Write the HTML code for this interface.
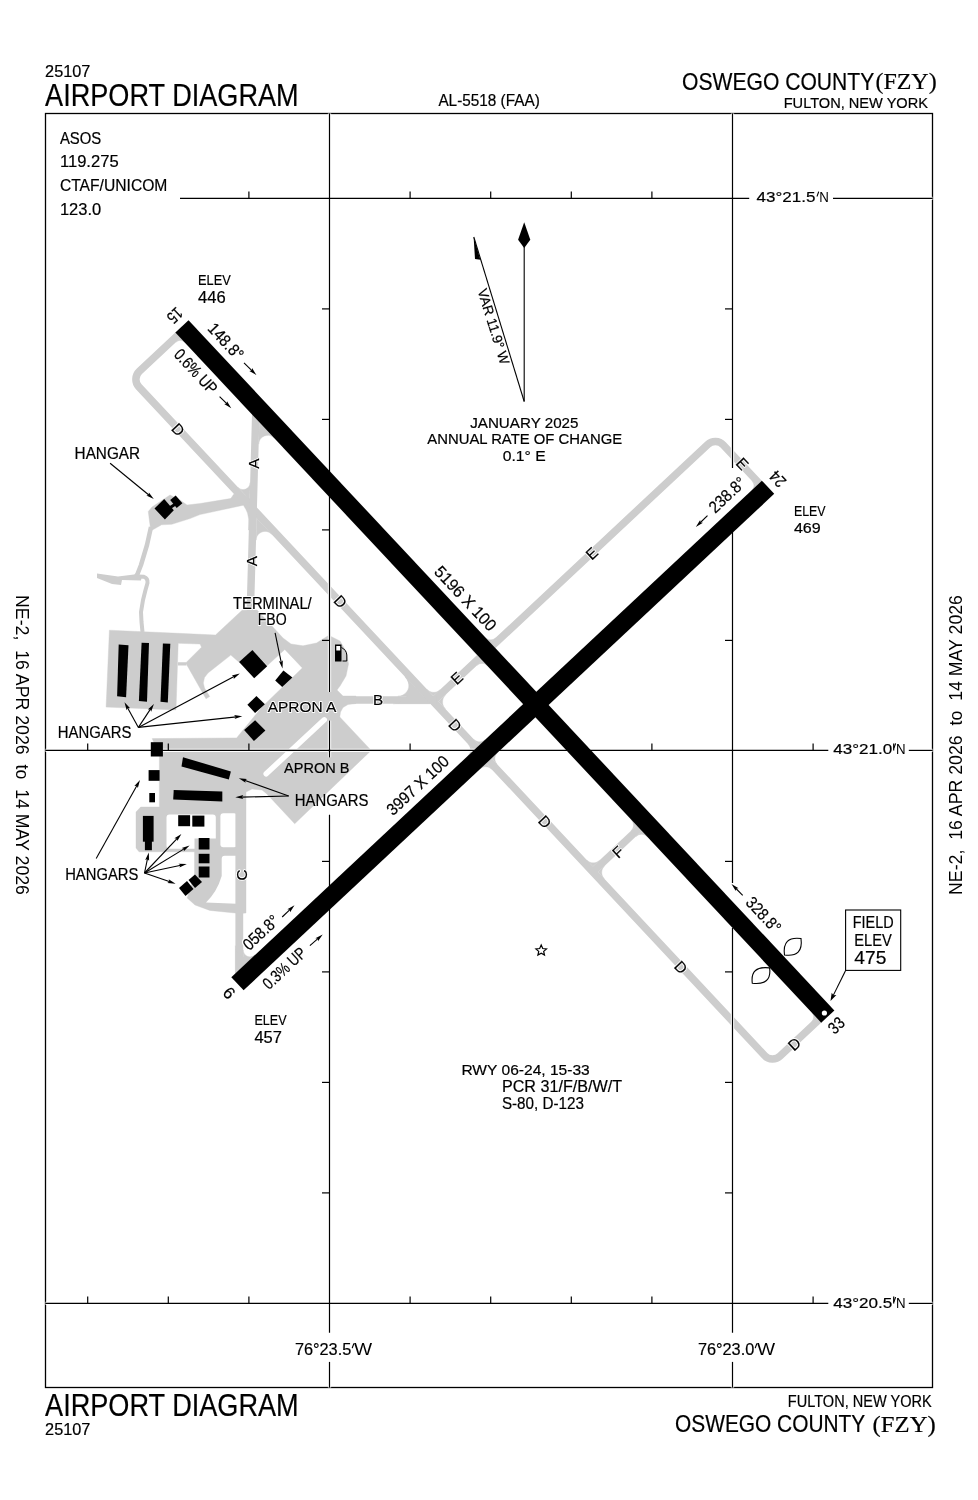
<!DOCTYPE html>
<html><head><meta charset="utf-8"><style>html,body{margin:0;padding:0;background:#fff;width:978px;height:1500px;overflow:hidden}svg{display:block;will-change:transform}</style></head>
<body><svg width="978" height="1500" viewBox="0 0 978 1500">
<rect width="978" height="1500" fill="#fff"/>
<text x="45.10" y="77.10" font-size="16.86" font-family='"Liberation Sans", sans-serif' textLength="45.30" lengthAdjust="spacingAndGlyphs" stroke="#000" stroke-width="0.2" >25107</text>
<text x="45.10" y="106.00" font-size="31.98" font-family='"Liberation Sans", sans-serif' textLength="253.60" lengthAdjust="spacingAndGlyphs" stroke="#000" stroke-width="0.2" >AIRPORT DIAGRAM</text>
<text x="438.40" y="105.80" font-size="16.13" font-family='"Liberation Sans", sans-serif' textLength="101.40" lengthAdjust="spacingAndGlyphs" stroke="#000" stroke-width="0.2" >AL-5518 (FAA)</text>
<text x="682.10" y="89.80" font-size="23.98" font-family='"Liberation Sans", sans-serif' textLength="192.10" lengthAdjust="spacingAndGlyphs" stroke="#000" stroke-width="0.2" >OSWEGO COUNTY</text>
<text x="875.40" y="88.70" font-size="23.66" font-family='"Liberation Serif", serif' textLength="61.30" lengthAdjust="spacingAndGlyphs" stroke="#000" stroke-width="0.2" >(FZY)</text>
<text x="783.70" y="107.50" font-size="14.83" font-family='"Liberation Sans", sans-serif' textLength="144.30" lengthAdjust="spacingAndGlyphs" stroke="#000" stroke-width="0.2" >FULTON, NEW YORK</text>
<text x="45.10" y="1416.00" font-size="30.96" font-family='"Liberation Sans", sans-serif' textLength="253.60" lengthAdjust="spacingAndGlyphs" stroke="#000" stroke-width="0.2" >AIRPORT DIAGRAM</text>
<text x="45.10" y="1434.70" font-size="16.13" font-family='"Liberation Sans", sans-serif' textLength="45.30" lengthAdjust="spacingAndGlyphs" stroke="#000" stroke-width="0.2" >25107</text>
<text x="787.80" y="1406.50" font-size="15.99" font-family='"Liberation Sans", sans-serif' textLength="143.90" lengthAdjust="spacingAndGlyphs" stroke="#000" stroke-width="0.2" >FULTON, NEW YORK</text>
<text x="675.10" y="1432.00" font-size="24.13" font-family='"Liberation Sans", sans-serif' textLength="190.10" lengthAdjust="spacingAndGlyphs" stroke="#000" stroke-width="0.2" >OSWEGO COUNTY</text>
<text x="872.60" y="1431.70" font-size="23.21" font-family='"Liberation Serif", serif' textLength="63.10" lengthAdjust="spacingAndGlyphs" stroke="#000" stroke-width="0.2" >(FZY)</text>
<g transform="translate(16,595) rotate(90)"><text x="0" y="0" font-size="17.5" font-family='"Liberation Sans", sans-serif' textLength="300" lengthAdjust="spacingAndGlyphs" style="white-space:pre" xml:space="preserve">NE-2,  16 APR 2026  to  14 MAY 2026</text></g>
<g transform="translate(962,895) rotate(-90)"><text x="0" y="0" font-size="17.5" font-family='"Liberation Sans", sans-serif' textLength="300" lengthAdjust="spacingAndGlyphs" style="white-space:pre" xml:space="preserve">NE-2,  16 APR 2026  to  14 MAY 2026</text></g>
<polygon points="109.40,630.20 178.00,633.30 215.50,635.00 242.10,610.20 257.00,610.00 274.50,628.70 283.00,638.00 291.00,644.00 303.00,645.80 316.50,643.00 327.70,636.00 331.00,636.50 340.00,641.00 346.50,652.00 348.50,664.00 346.00,676.00 340.00,686.00 337.00,690.00 343.00,696.00 356.00,696.00 356.00,703.50 348.00,704.50 343.00,707.50 340.50,712.00 339.80,717.00 371.20,750.40 294.70,823.80 266.90,793.90 262.00,790.00 252.00,789.00 246.00,792.00 246.00,913.00 240.00,913.50 209.80,910.40 195.00,905.00 187.20,898.00 194.50,874.40 194.50,851.80 139.00,851.80 136.00,848.00 136.00,812.00 140.70,807.00 159.40,807.00 159.40,756.00 152.20,738.60 236.60,737.90 262.00,707.00 302.30,667.90 284.80,649.50 267.30,665.60 252.40,650.10 239.30,662.40 230.80,655.10 208.00,673.00 204.50,677.50 203.30,683.00 204.50,688.00 209.70,696.50 206.00,698.80 185.70,662.90 201.50,647.20 200.10,644.00 178.20,643.30 176.00,709.90 106.10,707.10" fill="#cdcdcd" stroke="#cdcdcd" stroke-width="0.4"/>
<polygon points="178.00,662.30 186.00,662.30 186.50,665.40 178.00,665.40" fill="#cdcdcd" />
<path d="M166.5,817.5 Q166.5,814.5 169.5,814.5 L212.8,814.5 Q215.8,814.5 215.8,817.5 L215.8,838.6 L194.5,838.6 L194.5,848.8 L169.5,848.8 Q166.5,848.8 166.5,845.8 Z" fill="#fff"/>
<rect x="220.4" y="813.3" width="16.6" height="33.9" rx="3" fill="#fff"/>
<path d="M224.7,855.8 L236.5,855.8 L236.5,903.7 L206,902.4 Q217,892 221.7,876 L221.7,858.8 Q221.7,855.8 224.7,855.8 Z" fill="#fff"/>
<line x1="266.2" y1="773.8" x2="324.3" y2="719.8" stroke="#fff" stroke-width="5.5" stroke-linecap="round"/>
<polygon points="233.50,494.50 231.50,497.50 230.30,498.60 200.00,503.50 187.00,505.00 180.00,500.00 170.00,495.00 152.00,507.00 148.30,511.50 149.30,519.70 150.30,527.00 152.40,530.00 161.60,524.80 171.80,524.30 190.00,518.60 200.00,514.60 243.40,505.20 245.80,509.30 247.50,513.00 248.70,519.00 248.50,530.00 252.00,530.00 252.00,500.00 240.00,492.00" fill="#cdcdcd" stroke="#cdcdcd" stroke-width="0.4"/>
<path d="M151,527 L147,545 L141,565 L137.5,574 L136,576" fill="none" stroke="#cdcdcd" stroke-width="4.5" stroke-linejoin="round"/>
<polygon points="97.00,573.50 118.00,576.50 134.00,574.50 142.00,575.00 141.00,580.50 122.00,580.00 121.00,585.00 112.00,584.00 97.00,578.00" fill="#cdcdcd" />
<path d="M136,576.5 L144,576.8 Q148,578 147.5,583 L145.5,590 L143,600 L141,612 L141.5,622 L142.5,632" fill="none" stroke="#cdcdcd" stroke-width="4" stroke-linejoin="round"/>
<path d="M178.67,334.55 L139.39,371.31 A11,11 0 0 0 138.87,386.86 L764.57,1055.52 A11,11 0 0 0 780.11,1056.04 L819.40,1019.28" fill="none" stroke="#cdcdcd" stroke-width="7.5" stroke-linecap="butt" stroke-linejoin="round"/>
<path d="M759.85,484.02 L723.29,444.95 A11,11 0 0 0 707.75,444.44 L433.16,701.35" fill="none" stroke="#cdcdcd" stroke-width="7.5" stroke-linecap="butt" stroke-linejoin="round"/>
<path d="M330.00,700.00 L436.16,700.00" fill="none" stroke="#cdcdcd" stroke-width="7.5" stroke-linecap="butt" stroke-linejoin="round"/>
<path d="M640.04,827.61 L591.27,873.25" fill="none" stroke="#cdcdcd" stroke-width="7.5" stroke-linecap="butt" stroke-linejoin="round"/>
<path d="M256.00,405.00 L253.20,508.00 A0.01,0.01 0 0 1 253.20,508.00 L250.20,615.00" fill="none" stroke="#cdcdcd" stroke-width="7.5" stroke-linecap="butt" stroke-linejoin="round"/>
<path d="M239.30,790.00 L239.30,975.00" fill="none" stroke="#cdcdcd" stroke-width="7.8" stroke-linecap="butt" stroke-linejoin="round"/>
<polygon points="259.28,422.17 258.69,444.07 259.00,441.97 259.79,440.01 261.01,438.28 262.61,436.88 264.49,435.90 266.55,435.39 268.67,435.37 270.74,435.85 272.64,436.80 274.26,438.17" fill="#cdcdcd" stroke="#cdcdcd" stroke-width="0.4"/>
<polygon points="249.67,499.78 250.14,482.74 249.90,484.38 249.28,485.91 248.33,487.25 247.08,488.34 245.62,489.10 244.02,489.50 242.37,489.51 240.76,489.14 239.29,488.40 238.03,487.34" fill="#cdcdcd" stroke="#cdcdcd" stroke-width="0.4"/>
<polygon points="256.67,518.24 256.08,540.15 256.38,538.05 257.17,536.08 258.40,534.35 260.00,532.96 261.88,531.98 263.94,531.46 266.06,531.45 268.13,531.92 270.02,532.87 271.65,534.24" fill="#cdcdcd" stroke="#cdcdcd" stroke-width="0.4"/>
<polygon points="433.33,696.05 439.90,689.91 438.80,690.79 437.57,691.48 436.25,691.98 434.87,692.26 433.46,692.33 432.05,692.17 430.69,691.80 429.40,691.21 428.23,690.44 427.18,689.48" fill="#cdcdcd" stroke="#cdcdcd" stroke-width="0.4"/>
<polygon points="438.46,701.53 445.76,694.70 444.70,695.86 443.84,697.17 443.19,698.60 442.77,700.11 442.60,701.67 442.67,703.24 442.98,704.77 443.54,706.24 444.31,707.61 445.29,708.83" fill="#cdcdcd" stroke="#cdcdcd" stroke-width="0.4"/>
<polygon points="423.24,696.25 397.89,696.25 400.42,695.95 402.81,695.08 404.95,693.69 406.70,691.83 407.98,689.63 408.71,687.19 408.87,684.64 408.43,682.13 407.43,679.79 405.92,677.73" fill="#cdcdcd" stroke="#cdcdcd" stroke-width="0.4"/>
<polygon points="430.26,703.75 393.38,703.75 397.06,703.32 400.55,702.05 403.65,700.02 406.20,697.33 408.06,694.12 409.13,690.57 409.35,686.87 408.72,683.21 407.26,679.80 405.06,676.82" fill="#cdcdcd" stroke="#cdcdcd" stroke-width="0.4"/>
<polygon points="592.90,866.58 599.47,860.43 598.37,861.31 597.14,862.01 595.82,862.51 594.44,862.79 593.03,862.86 591.62,862.70 590.26,862.32 588.97,861.74 587.79,860.96 586.75,860.01" fill="#cdcdcd" stroke="#cdcdcd" stroke-width="0.4"/>
<polygon points="598.03,872.06 604.60,865.91 603.65,866.95 602.87,868.13 602.28,869.42 601.91,870.78 601.75,872.18 601.82,873.59 602.10,874.98 602.60,876.30 603.29,877.53 604.18,878.63" fill="#cdcdcd" stroke="#cdcdcd" stroke-width="0.4"/>
<polygon points="636.75,825.55 630.91,831.02 631.75,830.09 632.44,829.04 632.96,827.90 633.30,826.69 633.44,825.44 633.38,824.19 633.13,822.96 632.69,821.78 632.07,820.69 631.28,819.71" fill="#cdcdcd" stroke="#cdcdcd" stroke-width="0.4"/>
<polygon points="641.87,831.03 636.03,836.49 637.01,835.71 638.10,835.09 639.28,834.65 640.51,834.40 641.76,834.34 643.01,834.48 644.22,834.81 645.36,835.33 646.41,836.02 647.34,836.87" fill="#cdcdcd" stroke="#cdcdcd" stroke-width="0.4"/>
<polygon points="491.58,758.30 497.05,764.14 496.26,763.16 495.64,762.07 495.20,760.90 494.95,759.67 494.89,758.41 495.03,757.16 495.37,755.95 495.88,754.81 496.58,753.76 497.42,752.84" fill="#cdcdcd" stroke="#cdcdcd" stroke-width="0.4"/>
<polygon points="486.10,763.43 491.57,769.27 490.64,768.42 489.59,767.73 488.45,767.21 487.24,766.88 485.99,766.74 484.74,766.79 483.51,767.05 482.33,767.49 481.24,768.11 480.26,768.89" fill="#cdcdcd" stroke="#cdcdcd" stroke-width="0.4"/>
<polygon points="479.28,745.16 473.82,739.32 474.74,740.16 475.79,740.85 476.93,741.37 478.14,741.71 479.39,741.85 480.65,741.79 481.87,741.54 483.05,741.10 484.14,740.48 485.12,739.69" fill="#cdcdcd" stroke="#cdcdcd" stroke-width="0.4"/>
<polygon points="473.80,750.28 468.34,744.44 469.12,745.42 469.74,746.51 470.18,747.69 470.44,748.92 470.49,750.17 470.35,751.42 470.02,752.63 469.50,753.77 468.81,754.82 467.96,755.75" fill="#cdcdcd" stroke="#cdcdcd" stroke-width="0.4"/>
<polygon points="180.50,337.98 176.12,342.08 176.86,341.49 177.68,341.02 178.56,340.69 179.48,340.50 180.42,340.46 181.36,340.56 182.26,340.81 183.12,341.20 183.91,341.72 184.60,342.36" fill="#cdcdcd" stroke="#cdcdcd" stroke-width="0.4"/>
<polygon points="816.10,1017.22 811.72,1021.32 812.36,1020.63 812.88,1019.84 813.27,1018.98 813.52,1018.08 813.62,1017.14 813.58,1016.20 813.39,1015.28 813.06,1014.40 812.59,1013.58 812.00,1012.84" fill="#cdcdcd" stroke="#cdcdcd" stroke-width="0.4"/>
<polygon points="756.42,485.85 752.33,481.47 752.91,482.21 753.38,483.03 753.71,483.91 753.90,484.83 753.94,485.77 753.84,486.71 753.59,487.61 753.20,488.47 752.68,489.26 752.04,489.95" fill="#cdcdcd" stroke="#cdcdcd" stroke-width="0.4"/>
<polygon points="235.40,973.34 235.40,945.68 235.72,948.44 236.67,951.06 238.20,953.38 240.22,955.30 242.62,956.69 245.29,957.49 248.06,957.66 250.80,957.19 253.36,956.10 255.60,954.44" fill="#cdcdcd" stroke="#cdcdcd" stroke-width="0.4"/>
<polygon points="243.20,966.04 243.20,949.91 243.39,951.52 243.94,953.05 244.83,954.40 246.01,955.52 247.41,956.33 248.97,956.80 250.59,956.90 252.19,956.62 253.68,955.98 254.98,955.02" fill="#cdcdcd" stroke="#cdcdcd" stroke-width="0.4"/>
<polygon points="477.18,655.03 482.29,650.24 481.43,650.93 480.48,651.47 479.45,651.86 478.37,652.08 477.28,652.13 476.19,652.01 475.13,651.71 474.13,651.26 473.21,650.66 472.40,649.92" fill="#cdcdcd" stroke="#cdcdcd" stroke-width="0.4"/>
<polygon points="495.45,648.21 490.34,652.99 491.20,652.30 492.15,651.76 493.18,651.37 494.26,651.15 495.35,651.10 496.44,651.23 497.50,651.52 498.50,651.97 499.42,652.58 500.23,653.32" fill="#cdcdcd" stroke="#cdcdcd" stroke-width="0.4"/>
<polygon points="482.31,660.50 477.19,665.29 478.05,664.60 479.01,664.06 480.04,663.67 481.11,663.45 482.21,663.40 483.30,663.52 484.36,663.81 485.36,664.27 486.28,664.87 487.09,665.61" fill="#cdcdcd" stroke="#cdcdcd" stroke-width="0.4"/>
<polygon points="490.33,642.73 495.44,637.95 494.58,638.63 493.62,639.17 492.59,639.56 491.52,639.78 490.42,639.83 489.33,639.71 488.27,639.42 487.27,638.96 486.35,638.36 485.54,637.62" fill="#cdcdcd" stroke="#cdcdcd" stroke-width="0.4"/>
<rect x="45.5" y="113.5" width="887.0" height="1274.0" fill="none" stroke="#000" stroke-width="1.3"/>
<line x1="180" y1="198.4" x2="749.2" y2="198.4" stroke="#fff" stroke-width="3.3"/>
<line x1="833" y1="198.4" x2="932.5" y2="198.4" stroke="#fff" stroke-width="3.3"/>
<line x1="45.5" y1="750.4" x2="828.3" y2="750.4" stroke="#fff" stroke-width="3.3"/>
<line x1="908.8" y1="750.4" x2="932.5" y2="750.4" stroke="#fff" stroke-width="3.3"/>
<line x1="45.5" y1="1303.4" x2="828.3" y2="1303.4" stroke="#fff" stroke-width="3.3"/>
<line x1="908.8" y1="1303.4" x2="932.5" y2="1303.4" stroke="#fff" stroke-width="3.3"/>
<line x1="329.5" y1="113.5" x2="329.5" y2="692" stroke="#fff" stroke-width="3.3"/>
<line x1="329.5" y1="720.6" x2="329.5" y2="757.4" stroke="#fff" stroke-width="3.3"/>
<line x1="329.5" y1="814.7" x2="329.5" y2="1332.8" stroke="#fff" stroke-width="3.3"/>
<line x1="329.5" y1="1361.9" x2="329.5" y2="1387.5" stroke="#fff" stroke-width="3.3"/>
<line x1="732.5" y1="113.5" x2="732.5" y2="468" stroke="#fff" stroke-width="3.3"/>
<line x1="732.5" y1="532" x2="732.5" y2="883" stroke="#fff" stroke-width="3.3"/>
<line x1="732.5" y1="928" x2="732.5" y2="1332.8" stroke="#fff" stroke-width="3.3"/>
<line x1="732.5" y1="1361.9" x2="732.5" y2="1387.5" stroke="#fff" stroke-width="3.3"/>
<line x1="180" y1="198.4" x2="749.2" y2="198.4" stroke="#000" stroke-width="1.2"/>
<line x1="833" y1="198.4" x2="932.5" y2="198.4" stroke="#000" stroke-width="1.2"/>
<line x1="45.5" y1="750.4" x2="828.3" y2="750.4" stroke="#000" stroke-width="1.2"/>
<line x1="908.8" y1="750.4" x2="932.5" y2="750.4" stroke="#000" stroke-width="1.2"/>
<line x1="45.5" y1="1303.4" x2="828.3" y2="1303.4" stroke="#000" stroke-width="1.2"/>
<line x1="908.8" y1="1303.4" x2="932.5" y2="1303.4" stroke="#000" stroke-width="1.2"/>
<line x1="329.5" y1="113.5" x2="329.5" y2="692" stroke="#000" stroke-width="1.2"/>
<line x1="329.5" y1="720.6" x2="329.5" y2="757.4" stroke="#000" stroke-width="1.2"/>
<line x1="329.5" y1="814.7" x2="329.5" y2="1332.8" stroke="#000" stroke-width="1.2"/>
<line x1="329.5" y1="1361.9" x2="329.5" y2="1387.5" stroke="#000" stroke-width="1.2"/>
<line x1="732.5" y1="113.5" x2="732.5" y2="468" stroke="#000" stroke-width="1.2"/>
<line x1="732.5" y1="532" x2="732.5" y2="883" stroke="#000" stroke-width="1.2"/>
<line x1="732.5" y1="928" x2="732.5" y2="1332.8" stroke="#000" stroke-width="1.2"/>
<line x1="732.5" y1="1361.9" x2="732.5" y2="1387.5" stroke="#000" stroke-width="1.2"/>
<line x1="248.9" y1="191.4" x2="248.9" y2="198.4" stroke="#000" stroke-width="1.2"/>
<line x1="410.1" y1="191.4" x2="410.1" y2="198.4" stroke="#000" stroke-width="1.2"/>
<line x1="490.7" y1="191.4" x2="490.7" y2="198.4" stroke="#000" stroke-width="1.2"/>
<line x1="571.3" y1="191.4" x2="571.3" y2="198.4" stroke="#000" stroke-width="1.2"/>
<line x1="651.9" y1="191.4" x2="651.9" y2="198.4" stroke="#000" stroke-width="1.2"/>
<line x1="87.7" y1="743.4" x2="87.7" y2="750.4" stroke="#000" stroke-width="1.2"/>
<line x1="168.3" y1="743.4" x2="168.3" y2="750.4" stroke="#000" stroke-width="1.2"/>
<line x1="248.9" y1="743.4" x2="248.9" y2="750.4" stroke="#000" stroke-width="1.2"/>
<line x1="410.1" y1="743.4" x2="410.1" y2="750.4" stroke="#000" stroke-width="1.2"/>
<line x1="490.7" y1="743.4" x2="490.7" y2="750.4" stroke="#000" stroke-width="1.2"/>
<line x1="571.3" y1="743.4" x2="571.3" y2="750.4" stroke="#000" stroke-width="1.2"/>
<line x1="651.9" y1="743.4" x2="651.9" y2="750.4" stroke="#000" stroke-width="1.2"/>
<line x1="813.1" y1="743.4" x2="813.1" y2="750.4" stroke="#000" stroke-width="1.2"/>
<line x1="893.7" y1="743.4" x2="893.7" y2="750.4" stroke="#000" stroke-width="1.2"/>
<line x1="87.7" y1="1296.4" x2="87.7" y2="1303.4" stroke="#000" stroke-width="1.2"/>
<line x1="168.3" y1="1296.4" x2="168.3" y2="1303.4" stroke="#000" stroke-width="1.2"/>
<line x1="248.9" y1="1296.4" x2="248.9" y2="1303.4" stroke="#000" stroke-width="1.2"/>
<line x1="410.1" y1="1296.4" x2="410.1" y2="1303.4" stroke="#000" stroke-width="1.2"/>
<line x1="490.7" y1="1296.4" x2="490.7" y2="1303.4" stroke="#000" stroke-width="1.2"/>
<line x1="571.3" y1="1296.4" x2="571.3" y2="1303.4" stroke="#000" stroke-width="1.2"/>
<line x1="651.9" y1="1296.4" x2="651.9" y2="1303.4" stroke="#000" stroke-width="1.2"/>
<line x1="813.1" y1="1296.4" x2="813.1" y2="1303.4" stroke="#000" stroke-width="1.2"/>
<line x1="893.7" y1="1296.4" x2="893.7" y2="1303.4" stroke="#000" stroke-width="1.2"/>
<line x1="322.0" y1="308.9" x2="329.5" y2="308.9" stroke="#000" stroke-width="1.2"/>
<line x1="322.0" y1="419.4" x2="329.5" y2="419.4" stroke="#000" stroke-width="1.2"/>
<line x1="322.0" y1="529.9" x2="329.5" y2="529.9" stroke="#000" stroke-width="1.2"/>
<line x1="322.0" y1="640.4" x2="329.5" y2="640.4" stroke="#000" stroke-width="1.2"/>
<line x1="322.0" y1="861.4" x2="329.5" y2="861.4" stroke="#000" stroke-width="1.2"/>
<line x1="322.0" y1="971.9" x2="329.5" y2="971.9" stroke="#000" stroke-width="1.2"/>
<line x1="322.0" y1="1082.4" x2="329.5" y2="1082.4" stroke="#000" stroke-width="1.2"/>
<line x1="322.0" y1="1192.9" x2="329.5" y2="1192.9" stroke="#000" stroke-width="1.2"/>
<line x1="725.0" y1="308.9" x2="732.5" y2="308.9" stroke="#000" stroke-width="1.2"/>
<line x1="725.0" y1="419.4" x2="732.5" y2="419.4" stroke="#000" stroke-width="1.2"/>
<line x1="725.0" y1="529.9" x2="732.5" y2="529.9" stroke="#000" stroke-width="1.2"/>
<line x1="725.0" y1="640.4" x2="732.5" y2="640.4" stroke="#000" stroke-width="1.2"/>
<line x1="725.0" y1="861.4" x2="732.5" y2="861.4" stroke="#000" stroke-width="1.2"/>
<line x1="725.0" y1="971.9" x2="732.5" y2="971.9" stroke="#000" stroke-width="1.2"/>
<line x1="725.0" y1="1082.4" x2="732.5" y2="1082.4" stroke="#000" stroke-width="1.2"/>
<line x1="725.0" y1="1192.9" x2="732.5" y2="1192.9" stroke="#000" stroke-width="1.2"/>
<text x="756.50" y="202.40" font-size="15.41" font-family='"Liberation Sans", sans-serif' textLength="58.90" lengthAdjust="spacingAndGlyphs" stroke="#000" stroke-width="0.2" >43°21.5</text>
<line x1="818.60" y1="192.00" x2="817.10" y2="196.10" stroke="#000" stroke-width="1.1" stroke-linecap="round"/>
<text x="819.20" y="202.40" font-size="15.41" font-family='"Liberation Sans", sans-serif' textLength="9.60" lengthAdjust="spacingAndGlyphs">N</text>
<text x="833.20" y="754.30" font-size="15.55" font-family='"Liberation Sans", sans-serif' textLength="59.10" lengthAdjust="spacingAndGlyphs" stroke="#000" stroke-width="0.2" >43°21.0</text>
<line x1="895.50" y1="743.80" x2="894.00" y2="747.90" stroke="#000" stroke-width="1.1" stroke-linecap="round"/>
<text x="896.10" y="754.30" font-size="15.55" font-family='"Liberation Sans", sans-serif' textLength="9.60" lengthAdjust="spacingAndGlyphs">N</text>
<text x="833.20" y="1308.00" font-size="15.55" font-family='"Liberation Sans", sans-serif' textLength="59.10" lengthAdjust="spacingAndGlyphs" stroke="#000" stroke-width="0.2" >43°20.5</text>
<line x1="895.50" y1="1297.50" x2="894.00" y2="1301.60" stroke="#000" stroke-width="1.1" stroke-linecap="round"/>
<text x="896.10" y="1308.00" font-size="15.55" font-family='"Liberation Sans", sans-serif' textLength="9.60" lengthAdjust="spacingAndGlyphs">N</text>
<text x="294.90" y="1354.80" font-size="16.42" font-family='"Liberation Sans", sans-serif' textLength="56.40" lengthAdjust="spacingAndGlyphs" stroke="#000" stroke-width="0.2" >76°23.5</text>
<line x1="353.80" y1="1343.70" x2="352.30" y2="1347.80" stroke="#000" stroke-width="1.1" stroke-linecap="round"/>
<text x="353.90" y="1354.80" font-size="16.42" font-family='"Liberation Sans", sans-serif' textLength="18.10" lengthAdjust="spacingAndGlyphs">W</text>
<text x="697.90" y="1354.80" font-size="16.42" font-family='"Liberation Sans", sans-serif' textLength="56.40" lengthAdjust="spacingAndGlyphs" stroke="#000" stroke-width="0.2" >76°23.0</text>
<line x1="756.80" y1="1343.70" x2="755.30" y2="1347.80" stroke="#000" stroke-width="1.1" stroke-linecap="round"/>
<text x="756.90" y="1354.80" font-size="16.42" font-family='"Liberation Sans", sans-serif' textLength="18.10" lengthAdjust="spacingAndGlyphs">W</text>
<line x1="181.95" y1="326.35" x2="827.8" y2="1016.55" stroke="#000" stroke-width="18"/>
<line x1="237.45" y1="983.75" x2="768.05" y2="487.3" stroke="#000" stroke-width="18"/>
<polygon points="154.50,508.40 164.20,499.00 173.80,510.20 164.90,519.50" fill="#000" />
<polygon points="170.20,500.10 175.70,495.60 182.40,503.30 176.70,508.00" fill="#000" />
<line x1="168" y1="509" x2="177" y2="503" stroke="#000" stroke-width="3"/>
<polygon points="118.70,644.50 128.50,645.30 126.10,697.30 117.10,696.30" fill="#000" />
<polygon points="141.60,642.80 149.00,643.00 147.00,701.80 138.90,700.90" fill="#000" />
<polygon points="162.90,643.60 170.30,643.80 167.80,702.60 160.50,701.80" fill="#000" />
<polygon points="252.40,650.10 267.20,666.30 254.20,678.20 239.10,661.90" fill="#000" />
<polygon points="283.40,670.40 292.40,677.60 282.20,687.10 275.20,680.50" fill="#000" />
<polygon points="256.40,696.10 264.90,704.30 255.10,712.90 247.40,704.70" fill="#000" />
<polygon points="255.10,720.20 265.40,730.40 253.90,741.10 244.10,730.00" fill="#000" />
<rect x="150.8" y="742.2" width="12.1" height="14.3" fill="#000"/>
<rect x="148.6" y="770.1" width="11" height="10.7" fill="#000"/>
<rect x="149.3" y="793" width="5.7" height="9.3" fill="#000"/>
<polygon points="183.00,757.20 230.90,771.50 228.80,779.40 181.50,766.50" fill="#000" />
<polygon points="173.70,790.10 222.30,791.50 222.30,801.60 173.20,799.50" fill="#000" />
<rect x="142.9" y="815.9" width="10.7" height="25.8" fill="#000"/>
<rect x="144.9" y="841" width="7" height="9.2" fill="#000"/>
<rect x="178.2" y="815.2" width="11.9" height="11" fill="#000"/>
<rect x="192.3" y="815.6" width="12.1" height="11" fill="#000"/>
<rect x="198.7" y="838" width="10.8" height="11.5" fill="#000"/>
<rect x="198.7" y="853.8" width="10.8" height="9.5" fill="#000"/>
<rect x="198.7" y="866.5" width="10.8" height="11" fill="#000"/>
<polygon points="179.00,888.00 187.00,881.00 193.50,889.00 185.50,896.00" fill="#000" />
<polygon points="188.50,880.00 195.00,874.50 202.00,882.00 195.00,888.00" fill="#000" />
<text x="59.90" y="143.50" font-size="15.70" font-family='"Liberation Sans", sans-serif' textLength="41.30" lengthAdjust="spacingAndGlyphs" stroke="#000" stroke-width="0.2" >ASOS</text>
<text x="59.90" y="167.00" font-size="16.42" font-family='"Liberation Sans", sans-serif' textLength="58.80" lengthAdjust="spacingAndGlyphs" stroke="#000" stroke-width="0.2" >119.275</text>
<text x="59.90" y="190.70" font-size="16.72" font-family='"Liberation Sans", sans-serif' textLength="107.50" lengthAdjust="spacingAndGlyphs" stroke="#000" stroke-width="0.2" >CTAF/UNICOM</text>
<text x="59.90" y="214.50" font-size="16.72" font-family='"Liberation Sans", sans-serif' textLength="41.30" lengthAdjust="spacingAndGlyphs" stroke="#000" stroke-width="0.2" >123.0</text>
<text x="198.00" y="285.30" font-size="15.55" font-family='"Liberation Sans", sans-serif' textLength="32.70" lengthAdjust="spacingAndGlyphs" stroke="#000" stroke-width="0.2">ELEV</text>
<text x="198.00" y="302.70" font-size="15.99" font-family='"Liberation Sans", sans-serif' textLength="27.70" lengthAdjust="spacingAndGlyphs" stroke="#000" stroke-width="0.2">446</text>
<text x="793.90" y="515.60" font-size="15.41" font-family='"Liberation Sans", sans-serif' textLength="31.70" lengthAdjust="spacingAndGlyphs" stroke="#000" stroke-width="0.2">ELEV</text>
<text x="793.90" y="532.50" font-size="14.68" font-family='"Liberation Sans", sans-serif' textLength="26.80" lengthAdjust="spacingAndGlyphs" stroke="#000" stroke-width="0.2">469</text>
<text x="254.40" y="1025.40" font-size="15.41" font-family='"Liberation Sans", sans-serif' textLength="32.20" lengthAdjust="spacingAndGlyphs" stroke="#000" stroke-width="0.2">ELEV</text>
<text x="254.40" y="1042.80" font-size="15.70" font-family='"Liberation Sans", sans-serif' textLength="27.50" lengthAdjust="spacingAndGlyphs" stroke="#000" stroke-width="0.2">457</text>
<text x="74.60" y="459.30" font-size="15.99" font-family='"Liberation Sans", sans-serif' textLength="65.50" lengthAdjust="spacingAndGlyphs" stroke="#000" stroke-width="0.2">HANGAR</text>
<text x="233.10" y="608.80" font-size="15.70" font-family='"Liberation Sans", sans-serif' textLength="78.60" lengthAdjust="spacingAndGlyphs" fill="#fff" stroke="#fff" stroke-width="2" stroke-linejoin="round">TERMINAL/</text>
<text x="233.10" y="608.80" font-size="15.70" font-family='"Liberation Sans", sans-serif' textLength="78.60" lengthAdjust="spacingAndGlyphs" stroke="#000" stroke-width="0.2">TERMINAL/</text>
<text x="257.70" y="624.80" font-size="15.70" font-family='"Liberation Sans", sans-serif' textLength="28.90" lengthAdjust="spacingAndGlyphs" fill="#fff" stroke="#fff" stroke-width="2" stroke-linejoin="round">FBO</text>
<text x="257.70" y="624.80" font-size="15.70" font-family='"Liberation Sans", sans-serif' textLength="28.90" lengthAdjust="spacingAndGlyphs" stroke="#000" stroke-width="0.2">FBO</text>
<text x="57.80" y="737.60" font-size="16.13" font-family='"Liberation Sans", sans-serif' textLength="73.70" lengthAdjust="spacingAndGlyphs" stroke="#000" stroke-width="0.2">HANGARS</text>
<text x="65.20" y="879.50" font-size="15.99" font-family='"Liberation Sans", sans-serif' textLength="73.10" lengthAdjust="spacingAndGlyphs" stroke="#000" stroke-width="0.2">HANGARS</text>
<text x="294.70" y="806.00" font-size="15.99" font-family='"Liberation Sans", sans-serif' textLength="73.70" lengthAdjust="spacingAndGlyphs" stroke="#000" stroke-width="0.2">HANGARS</text>
<text x="267.70" y="711.60" font-size="15.41" font-family='"Liberation Sans", sans-serif' textLength="68.70" lengthAdjust="spacingAndGlyphs" fill="#fff" stroke="#fff" stroke-width="2" stroke-linejoin="round">APRON A</text>
<text x="267.70" y="711.60" font-size="15.41" font-family='"Liberation Sans", sans-serif' textLength="68.70" lengthAdjust="spacingAndGlyphs" stroke="#000" stroke-width="0.2">APRON A</text>
<text x="284.10" y="773.00" font-size="15.41" font-family='"Liberation Sans", sans-serif' textLength="65.40" lengthAdjust="spacingAndGlyphs" stroke="#000" stroke-width="0.2">APRON B</text>
<text x="461.40" y="1074.50" font-size="15.41" font-family='"Liberation Sans", sans-serif' textLength="128.40" lengthAdjust="spacingAndGlyphs" stroke="#000" stroke-width="0.2">RWY 06-24, 15-33</text>
<text x="501.90" y="1091.90" font-size="16.28" font-family='"Liberation Sans", sans-serif' textLength="120.20" lengthAdjust="spacingAndGlyphs" stroke="#000" stroke-width="0.2">PCR 31/F/B/W/T</text>
<text x="501.90" y="1108.90" font-size="16.72" font-family='"Liberation Sans", sans-serif' textLength="82.10" lengthAdjust="spacingAndGlyphs" stroke="#000" stroke-width="0.2">S-80, D-123</text>
<text x="470.20" y="428.30" font-size="14.68" font-family='"Liberation Sans", sans-serif' textLength="108.30" lengthAdjust="spacingAndGlyphs" stroke="#000" stroke-width="0.2">JANUARY 2025</text>
<text x="427.30" y="444.40" font-size="14.68" font-family='"Liberation Sans", sans-serif' textLength="194.80" lengthAdjust="spacingAndGlyphs" stroke="#000" stroke-width="0.2">ANNUAL RATE OF CHANGE</text>
<text x="502.80" y="460.50" font-size="14.68" font-family='"Liberation Sans", sans-serif' textLength="42.90" lengthAdjust="spacingAndGlyphs" stroke="#000" stroke-width="0.2">0.1° E</text>
<rect x="845.6" y="910" width="55.1" height="60.4" fill="#fff" stroke="#000" stroke-width="1.1"/>
<text x="852.80" y="927.70" font-size="17.01" font-family='"Liberation Sans", sans-serif' textLength="40.90" lengthAdjust="spacingAndGlyphs" stroke="#000" stroke-width="0.2">FIELD</text>
<text x="854.30" y="945.70" font-size="17.01" font-family='"Liberation Sans", sans-serif' textLength="37.60" lengthAdjust="spacingAndGlyphs" stroke="#000" stroke-width="0.2">ELEV</text>
<text x="854.30" y="964.40" font-size="18.02" font-family='"Liberation Sans", sans-serif' textLength="32.00" lengthAdjust="spacingAndGlyphs" stroke="#000" stroke-width="0.2">475</text>
<line x1="845.60" y1="970.40" x2="833.16" y2="995.62" stroke="#000" stroke-width="1.1"/>
<polygon points="830.50,1001.00 831.71,992.68 833.38,995.17 836.37,994.98" fill="#000"/>
<g transform="translate(225.80,341.35) rotate(46.90)"><text x="0" y="5.75" text-anchor="middle" font-size="16.72" font-family='"Liberation Sans", sans-serif' textLength="43.70" lengthAdjust="spacingAndGlyphs" fill="#fff" stroke="#fff" stroke-width="3" stroke-linejoin="round">148.8°</text><text x="0" y="5.75" text-anchor="middle" font-size="16.72" font-family='"Liberation Sans", sans-serif' textLength="43.70" lengthAdjust="spacingAndGlyphs" stroke="#000" stroke-width="0.2">148.8°</text></g>
<line x1="244.00" y1="362.80" x2="252.14" y2="370.87" stroke="#000" stroke-width="1.1"/>
<polygon points="256.40,375.10 249.31,370.89 251.79,370.52 252.13,368.05" fill="#000"/>
<g transform="translate(195.85,371.30) rotate(46.90)"><text x="0" y="5.75" text-anchor="middle" font-size="16.72" font-family='"Liberation Sans", sans-serif' textLength="54.90" lengthAdjust="spacingAndGlyphs" fill="#fff" stroke="#fff" stroke-width="3" stroke-linejoin="round">0.6% UP</text><text x="0" y="5.75" text-anchor="middle" font-size="16.72" font-family='"Liberation Sans", sans-serif' textLength="54.90" lengthAdjust="spacingAndGlyphs" stroke="#000" stroke-width="0.2">0.6% UP</text></g>
<line x1="219.60" y1="396.60" x2="227.04" y2="403.98" stroke="#000" stroke-width="1.1"/>
<polygon points="231.30,408.20 224.21,403.99 226.68,403.62 227.03,401.15" fill="#000"/>
<g transform="translate(465.50,598.55) rotate(46.90)"><text x="0" y="5.75" text-anchor="middle" font-size="16.72" font-family='"Liberation Sans", sans-serif' textLength="81.80" lengthAdjust="spacingAndGlyphs" fill="#fff" stroke="#fff" stroke-width="3" stroke-linejoin="round">5196 X 100</text><text x="0" y="5.75" text-anchor="middle" font-size="16.72" font-family='"Liberation Sans", sans-serif' textLength="81.80" lengthAdjust="spacingAndGlyphs" stroke="#000" stroke-width="0.2">5196 X 100</text></g>
<g transform="translate(417.60,785.35) rotate(-43.10)"><text x="0" y="5.75" text-anchor="middle" font-size="16.72" font-family='"Liberation Sans", sans-serif' textLength="78.40" lengthAdjust="spacingAndGlyphs" fill="#fff" stroke="#fff" stroke-width="3" stroke-linejoin="round">3997 X 100</text><text x="0" y="5.75" text-anchor="middle" font-size="16.72" font-family='"Liberation Sans", sans-serif' textLength="78.40" lengthAdjust="spacingAndGlyphs" stroke="#000" stroke-width="0.2">3997 X 100</text></g>
<g transform="translate(727.15,494.80) rotate(-43.10)"><text x="0" y="5.75" text-anchor="middle" font-size="16.72" font-family='"Liberation Sans", sans-serif' textLength="43.70" lengthAdjust="spacingAndGlyphs" fill="#fff" stroke="#fff" stroke-width="3" stroke-linejoin="round">238.8°</text><text x="0" y="5.75" text-anchor="middle" font-size="16.72" font-family='"Liberation Sans", sans-serif' textLength="43.70" lengthAdjust="spacingAndGlyphs" stroke="#000" stroke-width="0.2">238.8°</text></g>
<line x1="707.50" y1="515.60" x2="700.12" y2="522.73" stroke="#000" stroke-width="1.1"/>
<polygon points="695.80,526.90 700.16,519.90 700.48,522.38 702.94,522.78" fill="#000"/>
<g transform="translate(260.75,932.40) rotate(-43.10)"><text x="0" y="5.75" text-anchor="middle" font-size="16.72" font-family='"Liberation Sans", sans-serif' textLength="42.60" lengthAdjust="spacingAndGlyphs" fill="#fff" stroke="#fff" stroke-width="3" stroke-linejoin="round">058.8°</text><text x="0" y="5.75" text-anchor="middle" font-size="16.72" font-family='"Liberation Sans", sans-serif' textLength="42.60" lengthAdjust="spacingAndGlyphs" stroke="#000" stroke-width="0.2">058.8°</text></g>
<line x1="282.20" y1="917.00" x2="290.17" y2="909.35" stroke="#000" stroke-width="1.1"/>
<polygon points="294.50,905.20 290.11,912.18 289.81,909.70 287.34,909.30" fill="#000"/>
<g transform="translate(284.25,968.15) rotate(-43.10)"><text x="0" y="5.75" text-anchor="middle" font-size="16.72" font-family='"Liberation Sans", sans-serif' textLength="52.60" lengthAdjust="spacingAndGlyphs" fill="#fff" stroke="#fff" stroke-width="3" stroke-linejoin="round">0.3% UP</text><text x="0" y="5.75" text-anchor="middle" font-size="16.72" font-family='"Liberation Sans", sans-serif' textLength="52.60" lengthAdjust="spacingAndGlyphs" stroke="#000" stroke-width="0.2">0.3% UP</text></g>
<line x1="309.90" y1="945.70" x2="318.20" y2="938.37" stroke="#000" stroke-width="1.1"/>
<polygon points="322.70,934.40 318.03,941.19 317.83,938.70 315.38,938.20" fill="#000"/>
<g transform="translate(763.55,914.85) rotate(46.90)"><text x="0" y="5.75" text-anchor="middle" font-size="16.72" font-family='"Liberation Sans", sans-serif' textLength="42.60" lengthAdjust="spacingAndGlyphs" fill="#fff" stroke="#fff" stroke-width="3" stroke-linejoin="round">328.8°</text><text x="0" y="5.75" text-anchor="middle" font-size="16.72" font-family='"Liberation Sans", sans-serif' textLength="42.60" lengthAdjust="spacingAndGlyphs" stroke="#000" stroke-width="0.2">328.8°</text></g>
<line x1="742.70" y1="895.30" x2="735.72" y2="888.26" stroke="#000" stroke-width="1.1"/>
<polygon points="731.50,884.00 738.55,888.27 736.08,888.62 735.71,891.09" fill="#000"/>
<g transform="translate(174.85,315.40) rotate(136.90)"><text x="0" y="5.75" text-anchor="middle" font-size="16.72" font-family='"Liberation Sans", sans-serif' textLength="14.60" lengthAdjust="spacingAndGlyphs" fill="#fff" stroke="#fff" stroke-width="3" stroke-linejoin="round">15</text><text x="0" y="5.75" text-anchor="middle" font-size="16.72" font-family='"Liberation Sans", sans-serif' textLength="14.60" lengthAdjust="spacingAndGlyphs" stroke="#000" stroke-width="0.2">15</text></g>
<g transform="translate(836.20,1025.40) rotate(-43.10)"><text x="0" y="5.75" text-anchor="middle" font-size="16.72" font-family='"Liberation Sans", sans-serif' textLength="15.70" lengthAdjust="spacingAndGlyphs" fill="#fff" stroke="#fff" stroke-width="3" stroke-linejoin="round">33</text><text x="0" y="5.75" text-anchor="middle" font-size="16.72" font-family='"Liberation Sans", sans-serif' textLength="15.70" lengthAdjust="spacingAndGlyphs" stroke="#000" stroke-width="0.2">33</text></g>
<g transform="translate(229.00,993.00) rotate(46.90)"><text x="0" y="5.75" text-anchor="middle" font-size="16.72" font-family='"Liberation Sans", sans-serif'  fill="#fff" stroke="#fff" stroke-width="3" stroke-linejoin="round">6</text><text x="0" y="5.75" text-anchor="middle" font-size="16.72" font-family='"Liberation Sans", sans-serif'  stroke="#000" stroke-width="0.2">6</text></g>
<g transform="translate(777.70,479.00) rotate(-133.10)"><text x="0" y="5.75" text-anchor="middle" font-size="16.72" font-family='"Liberation Sans", sans-serif' textLength="15.70" lengthAdjust="spacingAndGlyphs" fill="#fff" stroke="#fff" stroke-width="3" stroke-linejoin="round">24</text><text x="0" y="5.75" text-anchor="middle" font-size="16.72" font-family='"Liberation Sans", sans-serif' textLength="15.70" lengthAdjust="spacingAndGlyphs" stroke="#000" stroke-width="0.2">24</text></g>
<g transform="translate(178.20,429.80) rotate(46.90)"><text x="0" y="5.25" text-anchor="middle" font-size="15.26" font-family='"Liberation Sans", sans-serif'  fill="#fff" stroke="#fff" stroke-width="2" stroke-linejoin="round">D</text><text x="0" y="5.25" text-anchor="middle" font-size="15.26" font-family='"Liberation Sans", sans-serif'  stroke="#000" stroke-width="0.2">D</text></g>
<g transform="translate(340.30,601.60) rotate(46.90)"><text x="0" y="5.25" text-anchor="middle" font-size="15.26" font-family='"Liberation Sans", sans-serif'  fill="#fff" stroke="#fff" stroke-width="2" stroke-linejoin="round">D</text><text x="0" y="5.25" text-anchor="middle" font-size="15.26" font-family='"Liberation Sans", sans-serif'  stroke="#000" stroke-width="0.2">D</text></g>
<g transform="translate(455.00,725.50) rotate(46.90)"><text x="0" y="5.25" text-anchor="middle" font-size="15.26" font-family='"Liberation Sans", sans-serif'  fill="#fff" stroke="#fff" stroke-width="2" stroke-linejoin="round">D</text><text x="0" y="5.25" text-anchor="middle" font-size="15.26" font-family='"Liberation Sans", sans-serif'  stroke="#000" stroke-width="0.2">D</text></g>
<g transform="translate(544.80,822.00) rotate(46.90)"><text x="0" y="5.25" text-anchor="middle" font-size="15.26" font-family='"Liberation Sans", sans-serif'  fill="#fff" stroke="#fff" stroke-width="2" stroke-linejoin="round">D</text><text x="0" y="5.25" text-anchor="middle" font-size="15.26" font-family='"Liberation Sans", sans-serif'  stroke="#000" stroke-width="0.2">D</text></g>
<g transform="translate(680.90,967.40) rotate(46.90)"><text x="0" y="5.25" text-anchor="middle" font-size="15.26" font-family='"Liberation Sans", sans-serif'  fill="#fff" stroke="#fff" stroke-width="2" stroke-linejoin="round">D</text><text x="0" y="5.25" text-anchor="middle" font-size="15.26" font-family='"Liberation Sans", sans-serif'  stroke="#000" stroke-width="0.2">D</text></g>
<g transform="translate(794.50,1044.20) rotate(-43.10)"><text x="0" y="5.25" text-anchor="middle" font-size="15.26" font-family='"Liberation Sans", sans-serif'  fill="#fff" stroke="#fff" stroke-width="2" stroke-linejoin="round">D</text><text x="0" y="5.25" text-anchor="middle" font-size="15.26" font-family='"Liberation Sans", sans-serif'  stroke="#000" stroke-width="0.2">D</text></g>
<g transform="translate(253.40,463.60) rotate(-90.00)"><text x="0" y="5.25" text-anchor="middle" font-size="15.26" font-family='"Liberation Sans", sans-serif'  fill="#fff" stroke="#fff" stroke-width="2" stroke-linejoin="round">A</text><text x="0" y="5.25" text-anchor="middle" font-size="15.26" font-family='"Liberation Sans", sans-serif'  stroke="#000" stroke-width="0.2">A</text></g>
<g transform="translate(251.80,561.10) rotate(-90.00)"><text x="0" y="5.25" text-anchor="middle" font-size="15.26" font-family='"Liberation Sans", sans-serif'  fill="#fff" stroke="#fff" stroke-width="2" stroke-linejoin="round">A</text><text x="0" y="5.25" text-anchor="middle" font-size="15.26" font-family='"Liberation Sans", sans-serif'  stroke="#000" stroke-width="0.2">A</text></g>
<g transform="translate(591.90,553.50) rotate(-43.10)"><text x="0" y="5.25" text-anchor="middle" font-size="15.26" font-family='"Liberation Sans", sans-serif'  fill="#fff" stroke="#fff" stroke-width="2" stroke-linejoin="round">E</text><text x="0" y="5.25" text-anchor="middle" font-size="15.26" font-family='"Liberation Sans", sans-serif'  stroke="#000" stroke-width="0.2">E</text></g>
<g transform="translate(742.40,463.90) rotate(46.90)"><text x="0" y="5.25" text-anchor="middle" font-size="15.26" font-family='"Liberation Sans", sans-serif'  fill="#fff" stroke="#fff" stroke-width="2" stroke-linejoin="round">E</text><text x="0" y="5.25" text-anchor="middle" font-size="15.26" font-family='"Liberation Sans", sans-serif'  stroke="#000" stroke-width="0.2">E</text></g>
<g transform="translate(456.80,678.30) rotate(-43.10)"><text x="0" y="5.25" text-anchor="middle" font-size="15.26" font-family='"Liberation Sans", sans-serif'  fill="#fff" stroke="#fff" stroke-width="2" stroke-linejoin="round">E</text><text x="0" y="5.25" text-anchor="middle" font-size="15.26" font-family='"Liberation Sans", sans-serif'  stroke="#000" stroke-width="0.2">E</text></g>
<g transform="translate(378.20,699.40) rotate(0.00)"><text x="0" y="5.25" text-anchor="middle" font-size="15.26" font-family='"Liberation Sans", sans-serif'  fill="#fff" stroke="#fff" stroke-width="2" stroke-linejoin="round">B</text><text x="0" y="5.25" text-anchor="middle" font-size="15.26" font-family='"Liberation Sans", sans-serif'  stroke="#000" stroke-width="0.2">B</text></g>
<g transform="translate(618.00,852.00) rotate(-43.10)"><text x="0" y="5.25" text-anchor="middle" font-size="15.26" font-family='"Liberation Sans", sans-serif'  fill="#fff" stroke="#fff" stroke-width="2" stroke-linejoin="round">F</text><text x="0" y="5.25" text-anchor="middle" font-size="15.26" font-family='"Liberation Sans", sans-serif'  stroke="#000" stroke-width="0.2">F</text></g>
<g transform="translate(241.70,875.10) rotate(-90.00)"><text x="0" y="5.25" text-anchor="middle" font-size="15.26" font-family='"Liberation Sans", sans-serif'  fill="#fff" stroke="#fff" stroke-width="2" stroke-linejoin="round">C</text><text x="0" y="5.25" text-anchor="middle" font-size="15.26" font-family='"Liberation Sans", sans-serif'  stroke="#000" stroke-width="0.2">C</text></g>
<line x1="110.10" y1="463.20" x2="149.16" y2="495.20" stroke="#000" stroke-width="1.1"/>
<polygon points="153.80,499.00 146.34,495.48 148.77,494.88 148.88,492.38" fill="#000"/>
<line x1="275.10" y1="632.90" x2="281.28" y2="662.63" stroke="#000" stroke-width="1.1"/>
<polygon points="282.50,668.50 278.91,661.07 281.18,662.14 282.83,660.26" fill="#000"/>
<line x1="138.40" y1="727.40" x2="127.40" y2="707.45" stroke="#000" stroke-width="1.1"/>
<polygon points="124.50,702.20 130.12,708.24 127.64,707.89 126.61,710.17" fill="#000"/>
<line x1="138.40" y1="727.40" x2="150.60" y2="708.91" stroke="#000" stroke-width="1.1"/>
<polygon points="153.90,703.90 151.16,711.68 150.32,709.33 147.83,709.48" fill="#000"/>
<line x1="138.40" y1="727.40" x2="234.50" y2="676.22" stroke="#000" stroke-width="1.1"/>
<polygon points="239.80,673.40 233.68,678.93 234.06,676.46 231.80,675.40" fill="#000"/>
<line x1="138.40" y1="727.40" x2="236.33" y2="716.84" stroke="#000" stroke-width="1.1"/>
<polygon points="242.30,716.20 234.56,719.05 235.84,716.90 234.13,715.07" fill="#000"/>
<line x1="288.70" y1="796.00" x2="244.45" y2="780.22" stroke="#000" stroke-width="1.1"/>
<polygon points="238.80,778.20 247.01,779.00 244.92,780.38 245.66,782.77" fill="#000"/>
<line x1="288.70" y1="796.00" x2="241.30" y2="797.15" stroke="#000" stroke-width="1.1"/>
<polygon points="235.30,797.30 243.25,795.11 241.80,797.14 243.35,799.10" fill="#000"/>
<line x1="144.50" y1="873.00" x2="147.56" y2="858.47" stroke="#000" stroke-width="1.1"/>
<polygon points="148.80,852.60 149.11,860.84 147.46,858.96 145.19,860.02" fill="#000"/>
<line x1="144.50" y1="873.00" x2="177.28" y2="838.26" stroke="#000" stroke-width="1.1"/>
<polygon points="181.40,833.90 177.36,841.09 176.94,838.63 174.45,838.35" fill="#000"/>
<line x1="144.50" y1="873.00" x2="184.48" y2="848.62" stroke="#000" stroke-width="1.1"/>
<polygon points="189.60,845.50 183.81,851.37 184.05,848.88 181.73,847.96" fill="#000"/>
<line x1="144.50" y1="873.00" x2="180.93" y2="865.25" stroke="#000" stroke-width="1.1"/>
<polygon points="186.80,864.00 179.39,867.62 180.44,865.35 178.56,863.71" fill="#000"/>
<line x1="144.50" y1="873.00" x2="169.93" y2="881.75" stroke="#000" stroke-width="1.1"/>
<polygon points="175.60,883.70 167.38,882.99 169.45,881.59 168.69,879.21" fill="#000"/>
<line x1="96.20" y1="858.40" x2="137.07" y2="785.24" stroke="#000" stroke-width="1.1"/>
<polygon points="140.00,780.00 137.84,787.96 136.83,785.67 134.35,786.01" fill="#000"/>
<line x1="524.2" y1="246" x2="524.2" y2="401.5" stroke="#000" stroke-width="1.1"/>
<polygon points="524.2,222.3 530.3,239.8 524.2,248 518.1,239.8" fill="#000"/>
<line x1="524.2" y1="401.5" x2="473.8" y2="237" stroke="#000" stroke-width="1.1"/>
<polygon points="473.6,236.7 480.4,259.8 475,259" fill="#000"/>
<g transform="translate(493.50,326.50) rotate(72.90)"><text x="0" y="4.75" text-anchor="middle" font-size="13.81" font-family='"Liberation Sans", sans-serif' textLength="78.00" lengthAdjust="spacingAndGlyphs" fill="#fff" stroke="#fff" stroke-width="2" stroke-linejoin="round">VAR 11.9° W</text><text x="0" y="4.75" text-anchor="middle" font-size="13.81" font-family='"Liberation Sans", sans-serif' textLength="78.00" lengthAdjust="spacingAndGlyphs" stroke="#000" stroke-width="0.2">VAR 11.9° W</text></g>
<circle cx="824.4" cy="1013" r="2.6" fill="#fff"/>
<polygon points="541.20,945.00 542.73,948.50 546.53,948.87 543.67,951.40 544.49,955.13 541.20,953.20 537.91,955.13 538.73,951.40 535.87,948.87 539.67,948.50" fill="#fff" stroke="#000" stroke-width="1.2" stroke-linejoin="miter"/>
<path d="M784.5,955 Q782,936 801,938.5 Q803.5,957.5 784.5,955 Z" fill="none" stroke="#000" stroke-width="1.1"/>
<path d="M752.3,983.2 Q750,965.5 769.6,967.9 Q772,985.5 752.3,983.2 Z" fill="none" stroke="#000" stroke-width="1.1"/>
<rect x="335" y="644.5" width="6.5" height="17" fill="#000"/>
<rect x="336.3" y="646" width="3.9" height="4.5" fill="#fff"/>
<path d="M341.5,647.5 Q346.5,650 346.8,655 L346.8,661 L342.5,661" fill="none" stroke="#000" stroke-width="1"/>
</svg></body></html>
